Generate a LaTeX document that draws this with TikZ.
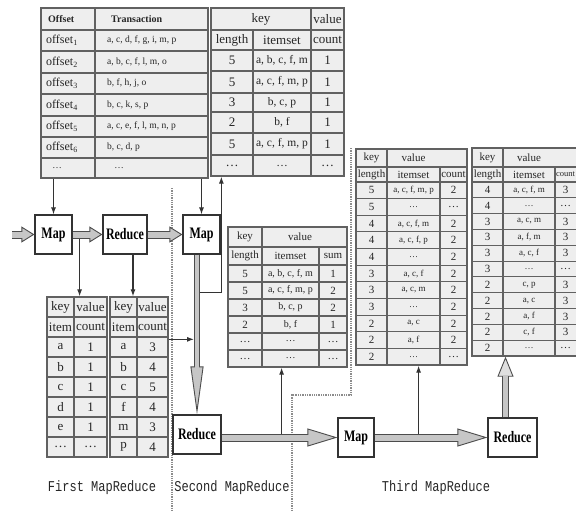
\documentclass[tikz,border=0pt]{standalone}
\usepackage{fontspec}
\setmainfont{Liberation Serif}
\newfontfamily\boxfont[FakeStretch=0.75]{Liberation Serif}
\newfontfamily\labfont[FakeStretch=0.8]{Liberation Mono}
\usetikzlibrary{positioning, arrows.meta, calc, fit}

\begin{document}
\begin{tikzpicture}[
  x=1pt, y=-1pt,
  >={Latex[length=7pt, width=5pt]},
  tabbox/.style  = {draw=black!62, fill=gray!13, line width=1.3pt, inner sep=0pt},
  gridline/.style = {black!62, line width=1.1pt},
  tx/.style      = {inner sep=0pt, text=black!85, font=\fontsize{#1}{#1}\selectfont},
  mrbox/.style   = {draw=black!80, line width=1.2pt, fill=white, minimum height=39pt, inner sep=0pt,
                    font=\boxfont\bfseries\fontsize{16}{16}\selectfont},
  mrlabel/.style = {inner sep=0pt, text=black!85, font=\labfont\fontsize{15}{15}\selectfont},
  arr/.style     = {->, line width=1.1pt, black!80},
  divider/.style = {densely dotted, line width=1.3pt, black!45},
  flowS/.style   = {line width=8pt, draw=black!70, -{Triangle[length=13pt, width=16pt, line width=0.9pt, fill=gray!45]},
                    postaction={draw=gray!45, line width=6pt, -, shorten >=11pt}},
  flowH/.style   = {line width=8pt, draw=black!70, -{Triangle[length=30pt, width=18pt, line width=0.9pt, fill=gray!45]},
                    postaction={draw=gray!45, line width=6pt, -, shorten >=28pt}},
  flowV/.style   = {line width=6pt, draw=black!70, -{Triangle[length=48pt, width=13pt, line width=0.9pt, fill=gray!45]},
                    postaction={draw=gray!45, line width=4pt, -, shorten >=46pt}},
  flowU/.style   = {line width=7pt, draw=black!70, -{Triangle[length=20pt, width=16pt, line width=0.9pt, fill=gray!25]},
                    postaction={draw=gray!45, line width=5pt, -, shorten >=18pt}},
]
  \useasboundingbox (0,0) rectangle (576,512);
  \clip (0,0) rectangle (576,512);

  % stage dividers
  \draw[divider] (172,188) -- (172,512);
  \draw[divider] (351,148) -- (351,395) -- (292,395) -- (292,512);

  % transaction table
  \node[tabbox, fit={(41,8) (208,178)}] (trans) {};
  \foreach \y in {30,51,73,94,116,137,158} \draw[gridline] (41,\y) -- (208,\y);
  \draw[gridline] (95,8) -- (95,178);
  \node[tx=10, anchor=west] (trans-h1) at (48,19) {\bfseries Offset};
  \node[tx=10, anchor=west] (trans-h2) at (111,19) {\bfseries Transaction};
  \foreach \y/\i/\s in {40.5/1/{a, c, d, f, g, i, m, p}, 62/2/{a, b, c, f, l, m, o}, 83.5/3/{b, f, h, j, o},
                        105/4/{b, c, k, s, p}, 126.5/5/{a, c, e, f, l, m, n, p}, 147.5/6/{b, c, d, p}} {
    \node[tx=12, anchor=west] (trans-o\i) at (46,\y) {offset\textsubscript{\i}};
    \node[tx=9.5, anchor=west] (trans-t\i) at (107,\y) {\s};
  }
  \node[tx=9.5] (trans-o7) at (57,168) {\dots};
  \node[tx=9.5] (trans-t7) at (119,168) {\dots};

  % first map output
  \node[tabbox, fit={(211,8) (344,176)}] (kv1) {};
  \foreach \y in {30,50,71,93,112,133,155} \draw[gridline] (211,\y) -- (344,\y);
  \draw[gridline] (253,30) -- (253,176);
  \draw[gridline] (311,8) -- (311,176);
  \node[tx=13] (kv1-key) at (261,19) {key};
  \node[tx=13] (kv1-val) at (327.5,19) {value};
  \node[tx=13] (kv1-len) at (232,40) {length};
  \node[tx=13] (kv1-set) at (282,40) {itemset};
  \node[tx=13] (kv1-cnt) at (327.5,40) {count};
  \foreach \y/\l/\s/\c [count=\i] in {60.5/5/{a, b, c, f, m}/1, 82/5/{a, c, f, m, p}/1, 102.5/3/{b, c, p}/1,
                                      122.5/2/{b, f}/1, 144/5/{a, c, f, m, p}/1, 165.5/\dots/\dots/\dots} {
    \node[tx=13] (kv1-l\i) at (232,\y) {\l};
    \node[tx=11.5] (kv1-s\i) at (282,\y) {\s};
    \node[tx=13] (kv1-c\i) at (327.5,\y) {\c};
  }

  % second reduce output
  \node[tabbox, fit={(228,227) (347,367)}] (sum2) {};
  \foreach \y in {247,265,282,299,316,333,350} \draw[gridline] (228,\y) -- (347,\y);
  \draw[gridline] (262,227) -- (262,367);
  \draw[gridline] (319,247) -- (319,367);
  \node[tx=11] (sum2-key) at (245,237) {key};
  \node[tx=11] (sum2-val) at (300,237) {value};
  \node[tx=11] (sum2-len) at (245,256) {length};
  \node[tx=11] (sum2-set) at (290.5,256) {itemset};
  \node[tx=11] (sum2-sum) at (333,256) {sum};
  \foreach \l/\s/\c [count=\i] in {5/{a, b, c, f, m}/1, 5/{a, c, f, m, p}/2, 3/{b, c, p}/2, 2/{b, f}/1,
                                   \dots/\dots/\dots, \dots/\dots/\dots} {
    \node[tx=11] (sum2-l\i) at (245,{256.5+17*\i}) {\l};
    \node[tx=10] (sum2-s\i) at (290.5,{256.5+17*\i}) {\s};
    \node[tx=11] (sum2-c\i) at (333,{256.5+17*\i}) {\c};
  }

  % first map / reduce counts
  \node[tabbox, fit={(47,297) (107,457)}] (cnt1) {};
  \node[tabbox, fit={(110,297) (168,457)}] (cnt2) {};
  \foreach \y in {317,337,...,437} {
    \draw[gridline] (47,\y) -- (107,\y);
    \draw[gridline] (110,\y) -- (168,\y);
  }
  \draw[gridline] (74,297) -- (74,457);
  \draw[gridline] (137,297) -- (137,457);
  \foreach \a/\b/\c/\d [count=\i] in {key/value/key/value, item/count/item/count, a/1/a/3, b/1/b/4,
                                      c/1/c/5, d/1/f/4, e/1/m/3, \dots/\dots/p/4} {
    \node[tx=13] (cnt1-k\i) at (60.5,{287+20*\i}) {\a};
    \node[tx=13] (cnt1-v\i) at (90.5,{287+20*\i}) {\b};
    \node[tx=13] (cnt2-k\i) at (123.5,{287+20*\i}) {\c};
    \node[tx=13] (cnt2-v\i) at (152.5,{287+20*\i}) {\d};
  }

  % third map output
  \node[tabbox, fit={(356,149) (467,365)}] (kv3) {};
  \foreach \y in {167,182} \draw[gridline] (356,\y) -- (467,\y);
  \foreach \k in {1,...,10} \draw[gridline] (356,{182+16.64*\k}) -- (467,{182+16.64*\k});
  \draw[gridline] (387,149) -- (387,365);
  \draw[gridline] (440,167) -- (440,365);
  \node[tx=11] (kv3-key) at (371.5,158) {key};
  \node[tx=11] (kv3-val) at (413.5,158) {value};
  \node[tx=11] (kv3-len) at (371.5,174.5) {length};
  \node[tx=11] (kv3-set) at (413.5,174.5) {itemset};
  \node[tx=11] (kv3-cnt) at (453.5,174.5) {count};
  \foreach \l/\s/\c [count=\i] in {5/{a, c, f, m, p}/2, 5/\dots/\dots, 4/{a, c, f, m}/2, 4/{a, c, f, p}/2,
                                   4/\dots/2, 3/{a, c, f}/2, 3/{a, c, m}/2, 3/\dots/2, 2/{a, c}/2, 2/{a, f}/2,
                                   2/\dots/\dots} {
    \node[tx=11] (kv3-l\i) at (371.5,{173.7+16.64*\i}) {\l};
    \node[tx=9] (kv3-s\i) at (413.5,{173.7+16.64*\i}) {\s};
    \node[tx=11] (kv3-c\i) at (453.5,{173.7+16.64*\i}) {\c};
  }

  % third reduce output
  \node[tabbox, fit={(472,148) (578,356)}] (kv4) {};
  \foreach \y in {167,182} \draw[gridline] (472,\y) -- (578,\y);
  \foreach \k in {1,...,10} \draw[gridline] (472,{182+15.82*\k}) -- (578,{182+15.82*\k});
  \draw[gridline] (503,148) -- (503,356);
  \draw[gridline] (555,167) -- (555,356);
  \node[tx=11] (kv4-key) at (487.5,157.5) {key};
  \node[tx=11] (kv4-val) at (529,157.5) {value};
  \node[tx=11] (kv4-len) at (487.5,174.5) {length};
  \node[tx=11] (kv4-set) at (529,174.5) {itemset};
  \node[tx=8.5] (kv4-cnt) at (565.5,174.5) {count};
  \foreach \l/\s/\c [count=\i] in {4/{a, c, f, m}/3, 4/\dots/\dots, 3/{a, c, m}/3, 3/{a, f, m}/3, 3/{a, c, f}/3,
                                   3/\dots/\dots, 2/{c, p}/3, 2/{a, c}/3, 2/{a, f}/3, 2/{c, f}/3, 2/\dots/\dots} {
    \node[tx=11] (kv4-l\i) at (487.5,{174.1+15.82*\i}) {\l};
    \node[tx=9] (kv4-s\i) at (529,{174.1+15.82*\i}) {\s};
    \node[tx=11] (kv4-c\i) at (565.5,{174.1+15.82*\i}) {\c};
  }

  % map / reduce steps
  \node[mrbox, minimum width=37pt] (map1) at (53.5,234.5) {Map};
  \node[mrbox, minimum width=44pt] (red1) at (125,234.5) {Reduce};
  \node[mrbox, minimum width=37pt] (map2) at (201.5,234.5) {Map};
  \node[mrbox, minimum width=48pt] (red2) at (197,434.5) {Reduce};
  \node[mrbox, minimum width=36pt] (map3) at (356,437.5) {Map};
  \node[mrbox, minimum width=49pt] (red3) at (512.5,437.5) {Reduce};

  % data flow
  \coordinate (src) at (12,234.5);
  \draw[flowS] (src) -- (map1.west);
  \draw[flowS] (map1.east) -- (red1.west);
  \draw[flowS] (red1.east) -- (map2.west);
  \draw[flowV] (map2.south -| red2.north) -- (red2.north);
  \draw[flowH] (red2.east |- map3) -- (map3.west);
  \draw[flowH] (map3.east) -- (red3.west);
  \draw[flowU] ([xshift=-7pt]red3.north) -- ([xshift=-7pt]red3.north |- kv4.south);

  % reads and writes
  \draw[arr] (trans.south -| map1.north) -- (map1.north);
  \draw[arr] (trans.south -| map2.north) -- (map2.north);
  \coordinate (m1tap) at ($(map1.east)+(7,4)$);
  \draw[arr] (m1tap) -- (m1tap |- cnt1.north);
  \draw[arr] ([xshift=8pt]red1.south) -- ([xshift=8pt]red1.south |- cnt2.north);
  \coordinate (m2tap) at ($(map2.south -| red2.north)+(3,38)$);
  \draw[arr] (m2tap) -| ($(kv1.south west)+(11,0)$);
  \coordinate (c2tap) at ($(cnt2.north east)+(0,43)$);
  \draw[arr] (c2tap) -- ([xshift=-3pt]c2tap -| red2.north);
  \coordinate (r2tap) at ($(red2.east |- map3)+(60,-4)$);
  \draw[arr] (r2tap) -- (r2tap |- sum2.south);
  \coordinate (m3tap) at ($(map3.east)+(44,-4)$);
  \draw[arr] (m3tap) -- (m3tap |- kv3.south);

  % stage captions
  \node[mrlabel] (lab1) at (102,488) {First MapReduce};
  \node[mrlabel] (lab2) at (232,488) {Second MapReduce};
  \node[mrlabel] (lab3) at (436,488) {Third MapReduce};
\end{tikzpicture}
\end{document}
